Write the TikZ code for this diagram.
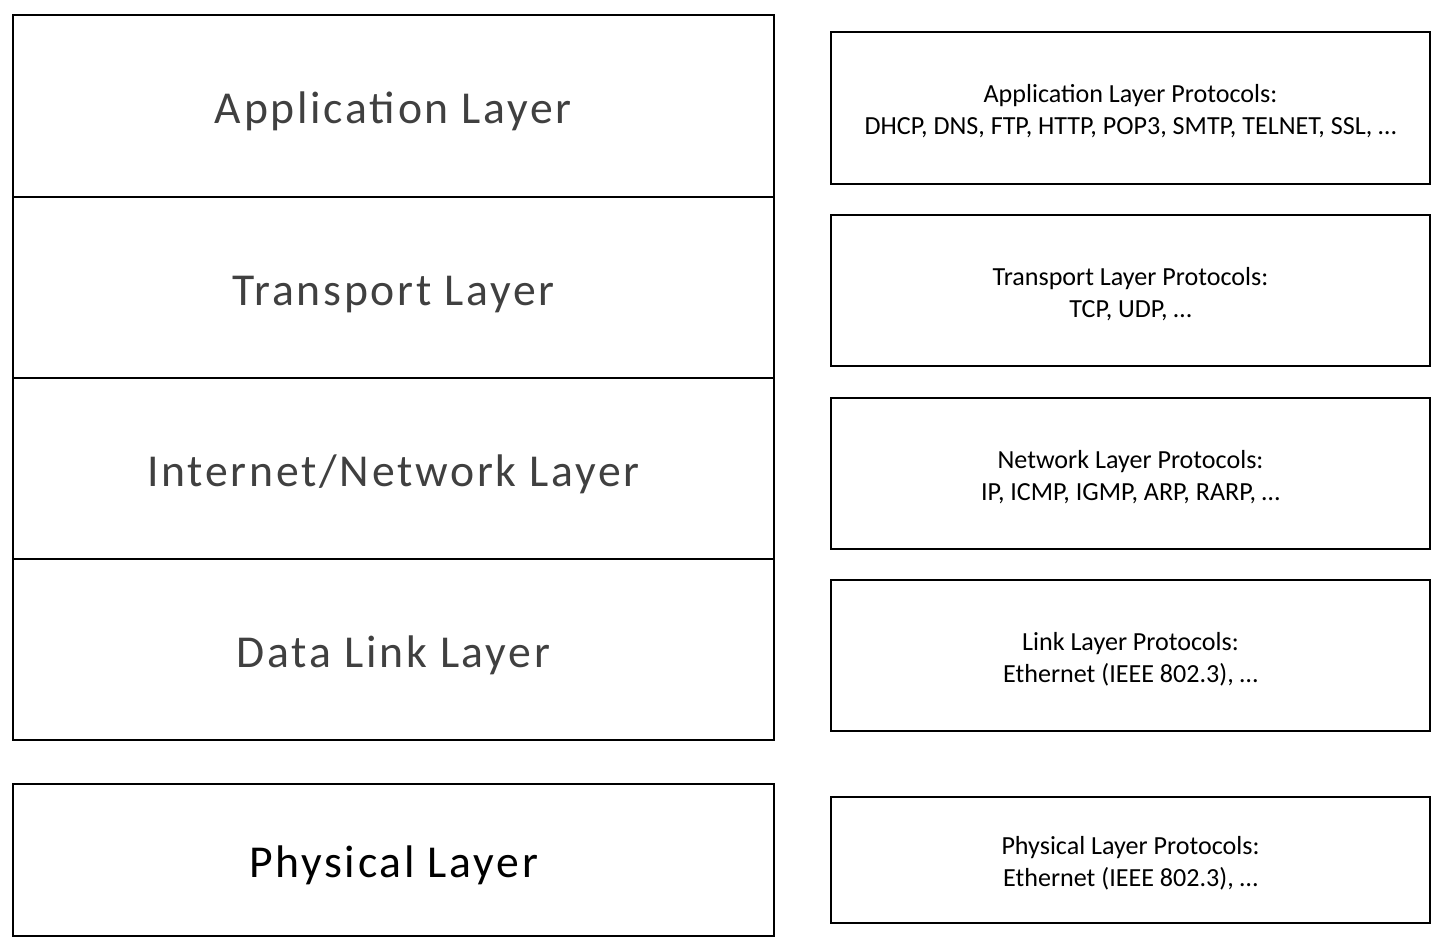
\documentclass[tikz,border=0pt]{standalone}
\usepackage{fontspec}
\setmainfont{Carlito}
\newfontfamily\layerfont[LetterSpace=6]{Carlito}
\usepackage{tikz}
\usetikzlibrary{positioning}
\definecolor{layerGray}{HTML}{404040}
\tikzset{
  layerbox/.style={draw=black, line width=1.1pt, minimum width=15.22cm, text height=0.85cm, text depth=0.15cm, font=\layerfont\fontsize{26}{30}\selectfont, text=layerGray},
  protobox/.style={draw=black, line width=1.1pt, minimum width=11.98cm, align=center, text height=1.16cm, text depth=0.1cm, font=\fontsize{14.85}{18.2}\selectfont}
}

\begin{document}
\begin{tikzpicture}[x=0.02cm, y=-0.02cm]
  \useasboundingbox (0,0) rectangle (1441,938);

  % Layer stack
  \node[layerbox, minimum height=3.64cm] (app) at (393.5,106) {Application Layer};
  \node[layerbox, minimum height=3.62cm] (trans) at (393.5,287.5) {Transport Layer};
  \node[layerbox, minimum height=3.62cm] (net) at (393.5,468.5) {Internet/Network Layer};
  \node[layerbox, minimum height=3.62cm] (link) at (393.5,649.5) {Data Link Layer};
  \node[layerbox, minimum height=3.04cm, text=black] (phys) at (393.5,860) {Physical Layer};

  % Protocols
  \node[protobox, minimum height=3.04cm] (appP) at (1130.5,108) {Application Layer Protocols:\\DHCP, DNS, FTP, HTTP, POP3, SMTP, TELNET, SSL, …};
  \node[protobox, minimum height=3.02cm] (transP) at (1130.5,290.5) {Transport Layer Protocols:\\TCP, UDP, …};
  \node[protobox, minimum height=3.02cm] (netP) at (1130.5,473.5) {Network Layer Protocols:\\IP, ICMP, IGMP, ARP, RARP, …};
  \node[protobox, minimum height=3.02cm] (linkP) at (1130.5,655.5) {Link Layer Protocols:\\Ethernet (IEEE 802.3), …};
  \node[protobox, minimum height=2.52cm] (physP) at (1130.5,860) {Physical Layer Protocols:\\Ethernet (IEEE 802.3), …};
\end{tikzpicture}
\end{document}
